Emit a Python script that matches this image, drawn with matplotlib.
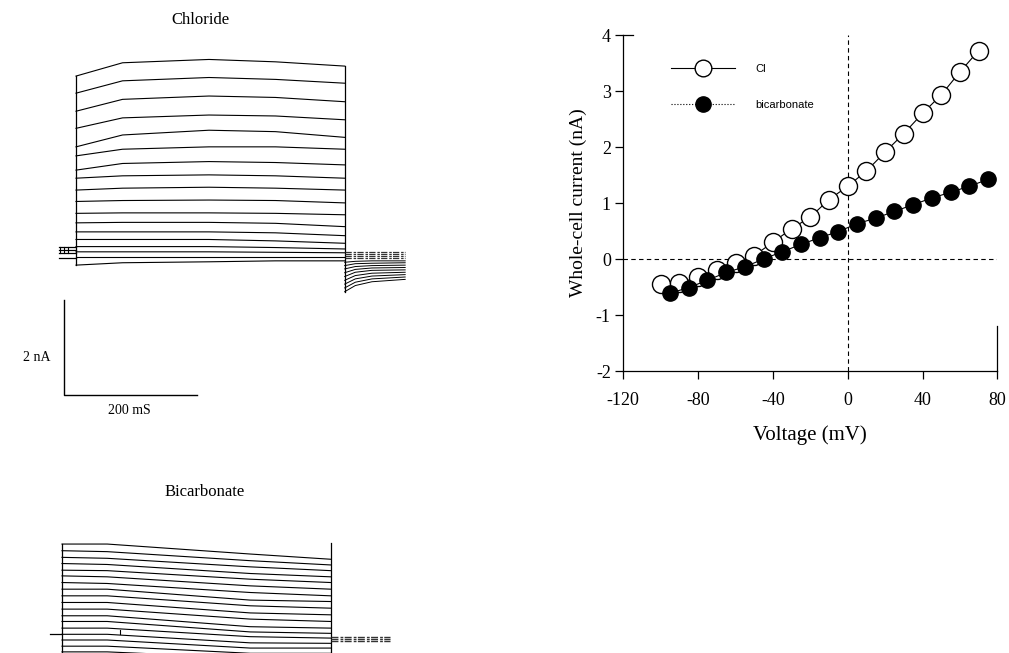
import matplotlib
matplotlib.use('Agg')
import matplotlib.pyplot as plt
from matplotlib.lines import Line2D

plt.rcParams['axes.unicode_minus'] = False

W, H = 1009, 653

# I-V relation (right panel)
voltage_cl = [-100, -90, -80, -70, -60, -50, -40, -30, -20, -10, 0, 10, 20, 30, 40, 50, 60, 70]
current_cl = [-0.45, -0.42, -0.33, -0.20, -0.08, 0.06, 0.30, 0.54, 0.75, 1.06,
              1.30, 1.57, 1.91, 2.24, 2.60, 2.93, 3.34, 3.72]
voltage_bicarb = [-95, -85, -75, -65, -55, -45, -35, -25, -15, -5, 5, 15, 25, 35, 45, 55, 65, 75]
current_bicarb = [-0.61, -0.51, -0.38, -0.24, -0.14, 0.00, 0.13, 0.26, 0.38, 0.49,
                  0.63, 0.73, 0.85, 0.97, 1.09, 1.19, 1.30, 1.42]
x_ticks = [-120, -80, -40, 0, 40, 80]
y_ticks = [-2, -1, 0, 1, 2, 3, 4]

# chloride current traces (nA) sampled at cl_time (ms)
cl_time = [0, 70, 200, 300, 404]
cl_sweeps = [
    [3.83, 4.11, 4.18, 4.13, 4.04],
    [3.47, 3.73, 3.80, 3.76, 3.68],
    [3.09, 3.34, 3.41, 3.38, 3.29],
    [2.73, 2.95, 3.01, 2.99, 2.91],
    [2.34, 2.59, 2.69, 2.66, 2.54],
    [2.15, 2.29, 2.34, 2.34, 2.29],
    [1.85, 1.99, 2.03, 2.01, 1.96],
    [1.68, 1.73, 1.75, 1.73, 1.68],
    [1.43, 1.47, 1.49, 1.47, 1.43],
    [1.19, 1.21, 1.22, 1.21, 1.16],
    [0.94, 0.95, 0.95, 0.94, 0.91],
    [0.74, 0.75, 0.75, 0.73, 0.66],
    [0.55, 0.55, 0.55, 0.53, 0.47],
    [0.39, 0.39, 0.39, 0.36, 0.31],
    [0.24, 0.24, 0.24, 0.22, 0.19],
    [0.13, 0.13, 0.13, 0.12, 0.11],
    [0.03, 0.03, 0.03, 0.03, 0.03],
    [-0.15, -0.10, -0.08, -0.06, -0.06],
]
cl_tail_time = [404, 420, 445, 495]
cl_tails = [
    [-0.71, -0.58, -0.50, -0.45],
    [-0.63, -0.51, -0.44, -0.40],
    [-0.55, -0.44, -0.38, -0.35],
    [-0.47, -0.37, -0.32, -0.30],
    [-0.39, -0.30, -0.26, -0.25],
    [-0.31, -0.24, -0.21, -0.20],
    [-0.23, -0.18, -0.16, -0.15],
    [-0.16, -0.12, -0.11, -0.10],
    [-0.09, -0.07, -0.06, -0.06],
]
cl_tail_noise = [0.13, 0.09, 0.05, 0.01]
cl_holding = [0.24, 0.17, 0.10, 0.0]

# bicarbonate current traces (nA) sampled at hco3_time (ms)
hco3_time = [0, 68, 283, 404]
hco3_sweeps = [
    [1.90, 1.90, 1.69, 1.58],
    [1.76, 1.74, 1.55, 1.46],
    [1.62, 1.60, 1.42, 1.34],
    [1.49, 1.47, 1.28, 1.21],
    [1.35, 1.34, 1.16, 1.09],
    [1.23, 1.21, 1.02, 0.95],
    [1.09, 1.07, 0.88, 0.81],
    [0.95, 0.95, 0.72, 0.69],
    [0.81, 0.81, 0.60, 0.55],
    [0.67, 0.67, 0.45, 0.41],
    [0.53, 0.53, 0.32, 0.27],
    [0.39, 0.39, 0.16, 0.13],
    [0.27, 0.27, 0.05, 0.02],
    [0.13, 0.13, -0.05, -0.08],
    [0.00, 0.00, -0.18, -0.19],
    [-0.12, -0.12, -0.29, -0.29],
    [-0.25, -0.25, -0.40, -0.40],
    [-0.37, -0.37, -0.50, -0.50],
]
hco3_tail_noise = [-0.05, -0.10, -0.15]

serif = 'Liberation Serif'


def px_axes(fig, box, x0_px, y0_px, px_per_ms, px_per_na):
    left, top, right, bottom = box
    ax = fig.add_axes([left / W, 1 - bottom / H, (right - left) / W, (bottom - top) / H])
    ax.set_xlim((left - x0_px) / px_per_ms, (right - x0_px) / px_per_ms)
    ax.set_ylim((y0_px - bottom) / px_per_na, (y0_px - top) / px_per_na)
    ax.axis('off')
    return ax


fig = plt.figure(figsize=(W / 100, H / 100), dpi=100)

# ---- chloride traces
ax_cl = px_axes(fig, (0, 0, 480, 450), 76, 258, 0.665, 47.5)
for sweep in cl_sweeps:
    ax_cl.plot(cl_time, sweep, color='k', lw=0.8)
ax_cl.plot([0, 0], [cl_sweeps[-1][0], cl_sweeps[0][0]], color='k', lw=0.9)
ax_cl.plot([cl_time[-1], cl_time[-1]], [cl_tails[0][0], cl_sweeps[0][-1]], color='k', lw=0.9)
for tail in cl_tails:
    ax_cl.plot(cl_tail_time, tail, color='k', lw=0.7)
for lev in cl_tail_noise:
    ax_cl.plot([cl_tail_time[0], cl_tail_time[-1]], [lev, lev], color='#333333', lw=0.9,
               ls=(0, (5, 1.5, 2, 1)))
for lev in cl_holding:
    ax_cl.plot([-26, 0], [lev, lev], color='k', lw=0.9)
for t in [-24, -18, -12]:
    ax_cl.plot([t, t], [cl_holding[2], cl_holding[0]], color='k', lw=0.8)

# scale bar
ax_cl.plot([-18, -18, 182], [-0.884, -2.884, -2.884], color='k', lw=1.0)
ax_cl.text(-39, -2.105, '2 nA', ha='right', va='center', fontsize=10, family=serif)
ax_cl.text(81, -3.08, '200 mS', ha='center', va='top', fontsize=10, family=serif)

fig.text(200 / W, 1 - 20 / H, 'Chloride', ha='center', va='center', fontsize=12, family=serif)

# ---- bicarbonate traces
ax_hc = px_axes(fig, (0, 470, 480, 653), 62, 634.3, 0.665, 47.5)
for sweep in hco3_sweeps:
    ax_hc.plot(hco3_time, sweep, color='k', lw=0.8)
ax_hc.plot([0, 0], [-1, hco3_sweeps[0][0]], color='k', lw=0.9)
ax_hc.plot([hco3_time[-1], hco3_time[-1]], [-1, 1.93], color='k', lw=0.9)
ax_hc.plot([-18, 0], [0, 0], color='k', lw=0.9)
ax_hc.plot([87, 87], [0.0, 0.09], color='k', lw=0.8)
for lev in hco3_tail_noise:
    ax_hc.plot([hco3_time[-1], 493], [lev, lev], color='#333333', lw=1.0,
               ls=(0, (5, 1.5, 2, 1)))

fig.text(205 / W, 1 - 492 / H, 'Bicarbonate', ha='center', va='center', fontsize=12, family=serif)

# ---- I-V plot
ax = fig.add_axes([623.3 / W, 1 - 371 / H, 374 / W, 336 / H])
ax.axhline(0, color='k', lw=0.8, ls=(0, (4, 3)), zorder=1)
ax.axvline(0, color='k', lw=0.8, ls=(0, (4, 3)), zorder=1)
ax.plot(voltage_cl, current_cl, color='k', lw=0.8, marker='o', ms=13, mfc='white',
        mec='k', mew=1.0, zorder=3)
ax.plot(voltage_bicarb, current_bicarb, color='k', lw=0.8, marker='o', ms=11, mfc='k',
        mec='k', zorder=4)
ax.set_xlim(-120, 80)
ax.set_ylim(-2, 4)
ax.set_xticks(x_ticks)
ax.set_yticks(y_ticks)
ax.spines['top'].set_bounds(-120, -115)
ax.spines['right'].set_bounds(-2, -1.2)
for s in ax.spines.values():
    s.set_linewidth(0.9)
ax.tick_params(direction='out', length=6, width=0.9, labelsize=13)
ax.tick_params(axis='x', pad=9)
ax.tick_params(axis='y', pad=3)
for lab in ax.get_xticklabels() + ax.get_yticklabels():
    lab.set_family(serif)
ax.set_xlabel('Voltage (mV)', fontsize=15, family=serif, labelpad=12)
ax.set_ylabel('Whole-cell current (nA)', fontsize=14, family=serif, labelpad=6)

handles = [
    Line2D([], [], color='k', lw=0.8, marker='o', ms=12, mfc='white', mec='k'),
    Line2D([], [], color='k', lw=0.8, ls=':', marker='o', ms=11, mfc='k', mec='k'),
]
ax.legend(handles, ['Cl', 'bicarbonate'], loc='upper left', bbox_to_anchor=(0.1275, 0.915),
          frameon=False, borderpad=0, borderaxespad=0, handlelength=5.8, handletextpad=1.8,
          labelspacing=2.4, prop={'family': 'Liberation Sans', 'size': 8})

fig.savefig('out.png', dpi=100)
